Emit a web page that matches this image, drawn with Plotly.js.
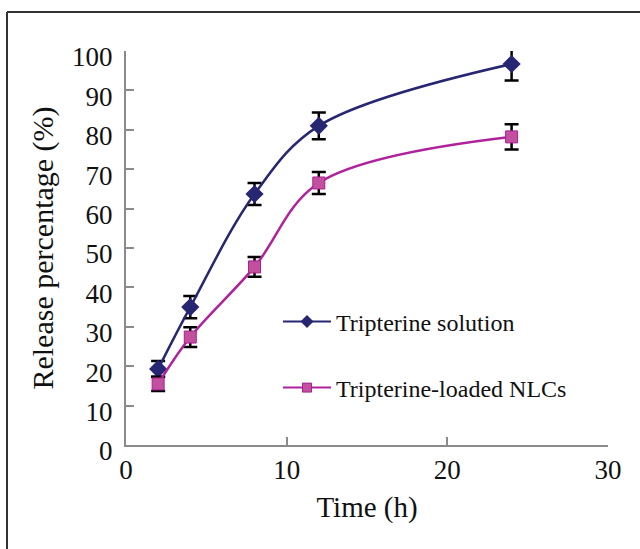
<!DOCTYPE html>
<html>
<head>
<meta charset="utf-8">
<script src="https://cdn.plot.ly/plotly-3.0.1.min.js"></script>
<style>html,body{margin:0;padding:0;background:#fff;}</style>
</head>
<body>
<div id="chart" style="width:640px;height:549px;"></div>
<script>
const timeH = [2, 4, 8, 12, 24];
const solutionRelease = [19.3, 35.0, 63.7, 81.0, 96.7];
const solutionErr = [2.0, 2.8, 2.8, 3.4, 4.2];
const nlcRelease = [15.5, 27.4, 45.2, 66.5, 78.2];
const nlcErr = [1.8, 2.5, 2.5, 2.8, 3.2];
const seriesNames = ['Tripterine solution', 'Tripterine-loaded NLCs'];
const xTicks = [0, 10, 20, 30];
const yTicks = [0, 10, 20, 30, 40, 50, 60, 70, 80, 90, 100];

const serif = 'Liberation Serif, Times New Roman, serif';
const navy = '#262673';
const pink = '#b0229c';

const traces = [
  {
    x: timeH, y: solutionRelease, name: seriesNames[0], type: 'scatter', mode: 'lines+markers',
    line: {color: navy, width: 2.5, shape: 'spline', smoothing: 1},
    marker: {symbol: 'diamond', size: 14, color: navy},
    error_y: {type: 'data', array: solutionErr, visible: true, color: '#000', thickness: 2.5, width: 7},
    showlegend: false
  },
  {
    x: timeH, y: nlcRelease, name: seriesNames[1], type: 'scatter', mode: 'lines+markers',
    line: {color: pink, width: 2.5, shape: 'spline', smoothing: 1},
    marker: {symbol: 'square', size: 12, color: '#c2509f', line: {color: '#a8208f', width: 1}},
    error_y: {type: 'data', array: nlcErr, visible: true, color: '#000', thickness: 2.5, width: 7},
    showlegend: false
  },
  {
    x: [null], y: [null], name: seriesNames[0], type: 'scatter', mode: 'lines+markers',
    line: {color: navy, width: 2}, marker: {symbol: 'diamond', size: 10, color: navy},
    legend: 'legend', hoverinfo: 'skip'
  },
  {
    x: [null], y: [null], name: seriesNames[1], type: 'scatter', mode: 'lines+markers',
    line: {color: pink, width: 2}, marker: {symbol: 'square', size: 9, color: '#c2509f', line: {color: '#a8208f', width: 1}},
    legend: 'legend2', hoverinfo: 'skip'
  }
];

const W = 482, H = 394, L = 126, T = 51;
const px2x = p => (p - L) / W;
const py2y = p => (T + H - p) / H;

const layout = {
  width: 640, height: 549,
  margin: {l: L, r: 640 - L - W, t: T, b: 549 - T - H},
  paper_bgcolor: '#fff', plot_bgcolor: '#fff',
  font: {family: serif, color: '#111'},
  xaxis: {
    range: [0, 30], tickvals: xTicks, ticktext: xTicks.map(String),
    showgrid: false, zeroline: false, showline: true, linecolor: '#8a8a8a', linewidth: 2,
    ticks: 'inside', ticklen: 8, tickwidth: 2, tickcolor: '#8a8a8a',
    tickfont: {family: serif, size: 27, color: '#111'},
    title: {text: 'Time (h)', font: {family: serif, size: 29, color: '#111'}, standoff: 12}
  },
  yaxis: {
    range: [0, 100], tickvals: yTicks, ticktext: yTicks.map(String),
    showgrid: false, zeroline: false, showline: true, linecolor: '#8a8a8a', linewidth: 2,
    ticks: 'inside', ticklen: 8, tickwidth: 2, tickcolor: '#8a8a8a',
    tickfont: {family: serif, size: 27, color: '#111'},
    ticklabelstandoff: 6, ticklabelshift: 6,
    title: {text: 'Release percentage (%)', font: {family: serif, size: 30, color: '#111'}, standoff: 10}
  },
  legend: {
    x: px2x(278), y: py2y(322), xanchor: 'left', yanchor: 'middle',
    bgcolor: 'rgba(0,0,0,0)', borderwidth: 0, itemwidth: 48,
    font: {family: serif, size: 24, color: '#111'}
  },
  legend2: {
    x: px2x(278), y: py2y(388), xanchor: 'left', yanchor: 'middle',
    bgcolor: 'rgba(0,0,0,0)', borderwidth: 0, itemwidth: 48,
    font: {family: serif, size: 24, color: '#111'}
  },
  shapes: [
    {type: 'line', xref: 'paper', yref: 'paper', x0: px2x(7), x1: px2x(7), y0: py2y(12), y1: py2y(560), line: {color: '#333', width: 2}},
    {type: 'line', xref: 'paper', yref: 'paper', x0: px2x(7), x1: px2x(660), y0: py2y(12), y1: py2y(12), line: {color: '#333', width: 2}}
  ],
  showlegend: true
};

Plotly.newPlot('chart', traces, layout, {displayModeBar: false, staticPlot: true});
</script>
</body>
</html>
